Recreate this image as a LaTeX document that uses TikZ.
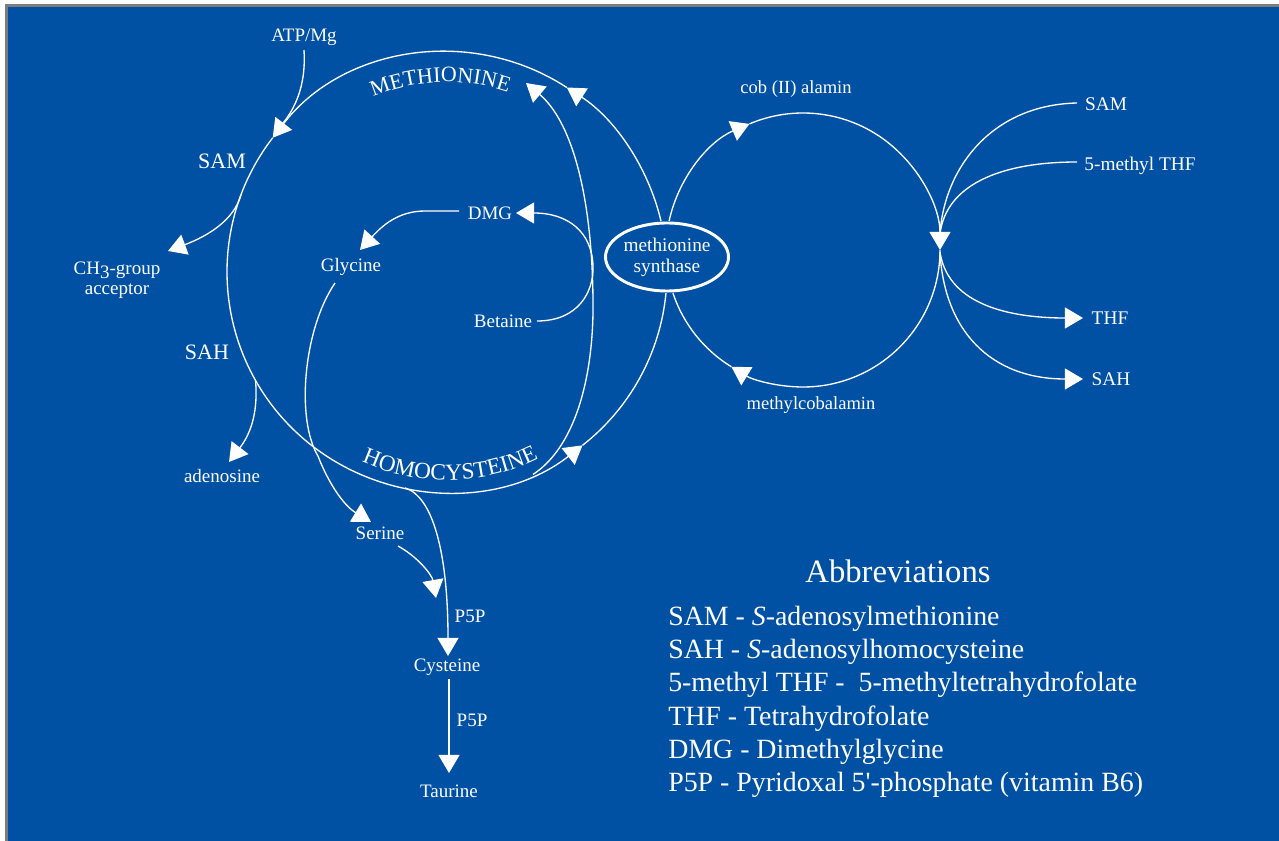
\documentclass[tikz,border=0pt]{standalone}
\usepackage{fontspec}
\setmainfont{Liberation Serif}
\usetikzlibrary{arrows.meta,decorations.text,calc,shapes.geometric}
\definecolor{bgblue}{RGB}{0,81,163}
\definecolor{framegray}{RGB}{125,125,125}
\newcommand\mtharcfont{\fontsize{16.5pt}{19pt}\selectfont\color{white}}
\newcommand\hcyarcfont{\fontsize{17.4pt}{20pt}\selectfont\color{white}}
\tikzset{
  conn/.style={draw=white,line width=1pt},
  arr/.style={conn,-{Triangle[length=13.6pt,width=15.8pt]}},
  lbl/.style={text=white,anchor=base,inner sep=0pt,font=\fontsize{14.25pt}{17pt}\selectfont},
  lblbig/.style={lbl,font=\fontsize{16.5pt}{19pt}\selectfont},
  lblsmall/.style={lbl,font=\fontsize{13.9pt}{17pt}\selectfont},
  lblright/.style={lbl,font=\fontsize{14.5pt}{17pt}\selectfont},
  abbrtitle/.style={lbl,font=\fontsize{24.5pt}{29pt}\selectfont},
  abbrline/.style={text=white,anchor=base west,inner sep=0pt,font=\fontsize{20.9pt}{25pt}\selectfont},
  enzyme/.style={ellipse,draw=white,line width=2.2pt,minimum width=91.5pt,minimum height=51pt,inner sep=0pt,text=white,align=center,font=\fontsize{14.5pt}{15.75pt}\selectfont},
}
\begin{document}
\begin{tikzpicture}[x=0.75pt,y=-0.75pt]
\useasboundingbox (0,0) rectangle (1279,841);
\fill[white] (0,0) rectangle (1279,841);
\fill[framegray] (5,4) rectangle (1279,841);
\fill[bgblue] (8,7) rectangle (1279,841);

% centres of the two cycles
\coordinate (C1) at (447,272);
\coordinate (C2) at (803,250);

% enzyme
\node[enzyme] (ms) at (667,257) {methionine\\synthase};

% ---- labels ----
\node[lbl] (atp) at (304,42) {ATP/Mg};
\node[lblbig] (samL) at (222,169) {SAM};
\node[lbl] (ch3) at (117,275) {CH\raisebox{-0.18em}{3}-group};
\node[lbl] (acc) at (117,295) {acceptor};
\node[lblbig] (sahL) at (207,360) {SAH};
\node[lbl] (ade) at (222,483) {adenosine};
\node[lbl] (gly) at (351,272) {Glycine};
\node[lbl] (dmg) at (490,220) {DMG};
\node[lbl] (bet) at (503,328) {Betaine};
\node[lbl] (ser) at (380,540) {Serine};
\node[lbl] (p5pa) at (470,622) {P5P};
\node[lbl] (cys) at (447,671) {Cysteine};
\node[lbl] (p5pb) at (472,726) {P5P};
\node[lbl] (tau) at (449,797) {Taurine};
\node[lblsmall] (cob) at (796,94) {cob (II) alamin};
\node[lblsmall] (mcb) at (811,410) {methylcobalamin};
\node[lblright] (samR) at (1106,111) {SAM};
\node[lblright] (mthf) at (1140,171) {5-methyl THF};
\node[lblright] (thf) at (1110,325) {THF};
\node[lblright] (sahR) at (1111,386) {SAH};

% curved cycle labels
\path[decorate,decoration={text along path,text align=center,text={|\mtharcfont|METHIONINE}}]
  ($(C1)+(142:142.5pt)$) arc[start angle=142,end angle=42,radius=142.5pt];
\path[decorate,decoration={text along path,text align=center,text={|\hcyarcfont|HOMOCYSTEINE}}]
  ($(C1)+(-137:156pt)$) arc[start angle=-137,end angle=-41,radius=156pt];

% ---- methionine cycle (left circle) ----
\draw[arr] ($(C1)+(13.4:165pt)$) arc[start angle=13.4,end angle=57,radius=165pt];
\draw[arr] ($(C1)+(57:165pt)$) arc[start angle=57,end angle=142.4,radius=165pt];
\draw[arr] ($(C1)+(142.4:165pt)$) arc[start angle=142.4,end angle=308,radius=165pt];
\draw[conn] ($(C1)+(308:165pt)$) arc[start angle=308,end angle=354.5,radius=165pt];

% ---- cobalamin cycle (right circle) ----
\draw[arr] ($(C2)+(167.8:102.75pt)$) arc[start angle=167.8,end angle=113,radius=102.75pt];
\draw[arr] ($(C2)+(113:102.75pt)$) arc[start angle=113,end angle=0,radius=102.75pt];
\draw[arr] ($(C2)+(0:102.75pt)$) arc[start angle=0,end angle=-121.5,radius=102.75pt];
\draw[conn] ($(C2)+(-121.5:102.75pt)$) arc[start angle=-121.5,end angle=-161.6,radius=102.75pt];

% ---- side branches ----
\coordinate (atpS) at (304,50);
\coordinate (atpE) at (283,123);
\draw[conn] (atpS) .. controls (306,80) and (298,105) .. (atpE);

\coordinate (samB) at ($(C1)+(159.5:165pt)$);
\coordinate (ch3T) at (168,251);
\draw[arr] (samB) .. controls (234,220) and (208,236) .. (ch3T);

\coordinate (sahB) at ($(C1)+(209.5:165pt)$);
\coordinate (adeT) at (229,462);
\draw[arr] (sahB) .. controls (258,410) and (252,432) .. (adeT);

\coordinate (hcyB) at ($(C1)+(-101:165pt)$);
\coordinate (cysT) at (448,656);
\draw[arr] (hcyB) .. controls (432,496) and (448,550) .. (cysT);

\coordinate (glyS) at (335,283);
\coordinate (serT) at (371,522);
\draw[arr] (glyS) .. controls (303,330) and (296,420) .. (318,456)
                 .. controls (328,482) and (343,505) .. (serT);

\coordinate (serS) at (398,546);
\coordinate (cysT2) at (436,598);
\draw[arr] (serS) .. controls (418,557) and (432,575) .. (cysT2);

\coordinate (cysS) at (449,679);
\coordinate (tauT) at (449,773);
\draw[arr] (cysS) -- (tauT);

\coordinate (dmgS) at (459,211);
\coordinate (glyT) at (360,250);
\draw[arr] (dmgS) -- (425,211) .. controls (398,211) and (382,226) .. (glyT);

\coordinate (betS) at (537,321);
\coordinate (dmgT) at (516,213);
\draw[arr] (betS) .. controls (578,321) and (594,292) .. (593,266)
                 .. controls (592,232) and (568,213) .. (dmgT);

\coordinate (bhB) at ($(C1)+(-67:165pt)$);
\coordinate (metT) at (526,83);
\draw[arr] (bhB) .. controls (578,445) and (594,370) .. (593,300)
                .. controls (592,190) and (570,120) .. (metT);

% ---- junction on the right circle ----
\coordinate (jIn) at (940,234);
\coordinate (jOut) at (940,252);
\coordinate (samRS) at (1077,103);
\coordinate (mthfS) at (1077,162);
\coordinate (thfT) at (1083,318);
\coordinate (sahRT) at (1083,379);
\draw[conn] (samRS) .. controls (990,105) and (944,170) .. (jIn);
\draw[conn] (mthfS) .. controls (1000,162) and (946,185) .. (jIn);
\draw[arr] (jOut) .. controls (947,300) and (1000,318) .. (thfT);
\draw[arr] (jOut) .. controls (944,330) and (990,379) .. (sahRT);

% ---- abbreviations ----
\node[abbrtitle] (abbr) at (898,582) {Abbreviations};
\node[abbrline] (ab1) at (668,625) {SAM - \textit{S}-adenosylmethionine};
\node[abbrline] (ab2) at (668,658) {SAH - \textit{S}-adenosylhomocysteine};
\node[abbrline] (ab3) at (668,691) {5-methyl THF -~~5-methyltetrahydrofolate};
\node[abbrline] (ab4) at (668,725) {THF - Tetrahydrofolate};
\node[abbrline] (ab5) at (668,758) {DMG - Dimethylglycine};
\node[abbrline] (ab6) at (668,791) {P5P - Pyridoxal 5\textquotesingle-phosphate (vitamin B6)};
\end{tikzpicture}
\end{document}
